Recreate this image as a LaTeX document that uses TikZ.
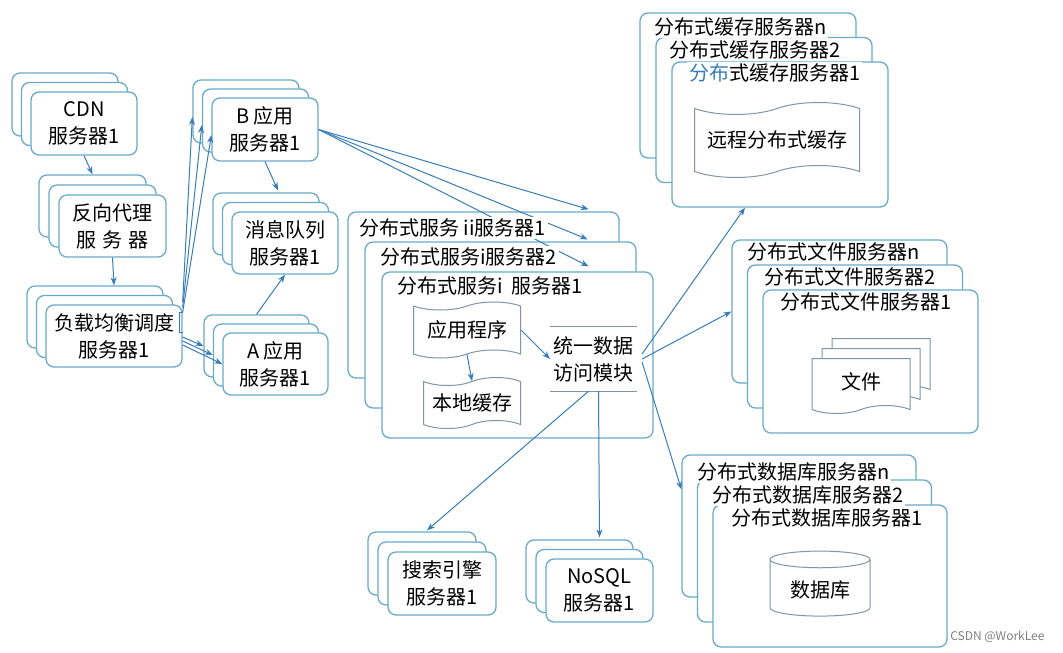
\documentclass[tikz,border=0pt]{standalone}
\usepackage{fontspec}
\setmainfont{Noto Sans CJK SC}
\usetikzlibrary{shapes.symbols,shapes.geometric,shadows,arrows.meta}

\definecolor{bordo}{RGB}{105,170,200}
\definecolor{blu}{RGB}{55,125,185}
\definecolor{grigio}{RGB}{125,150,170}

\tikzset{
  server/.style={draw=bordo, line width=1.3pt, rounded corners=8pt, fill=white, align=center},
  pila/.style 2 args={server,
    copy shadow={shadow xshift={-2*#1pt}, shadow yshift={2*#2pt}, draw=bordo, fill=white},
    copy shadow={shadow xshift={-#1pt}, shadow yshift={#2pt}, draw=bordo, fill=white}},
  nastro/.style={tape, draw=grigio, line width=1pt, fill=white, tape bend height=8pt, align=center},
  etichetta/.style={fill=white, inner sep=2pt, anchor=west},
  freccia/.style={-{Stealth[length=8pt,width=6pt]}, draw=blu, line width=1pt},
}

\begin{document}
\begin{tikzpicture}[x=1pt, y=-1pt, font=\fontsize{20}{27}\selectfont]
  \useasboundingbox (0,0) rectangle (1063,653);

  % Nodi
  \node[pila={9.5}{9.5}, minimum width=106pt, minimum height=63pt] (cdn) at (84,123.5) {CDN\\服务器1};
  \node[pila={10}{10}, minimum width=107pt, minimum height=62pt] (proxy) at (112.5,226) {反向代理\\服\hspace{6pt}务\hspace{6pt}器};
  \node[pila={9.5}{9.5}, minimum width=136pt, minimum height=62pt] (lb) at (114,336) {负载均衡调度\\服务器1};
  \node[pila={9.5}{9}, minimum width=106pt, minimum height=63pt] (B) at (265,129.5) {B\,应用\\服务器1};
  \node[pila={9.5}{9.5}, minimum width=106pt, minimum height=62pt] (mq) at (285,243) {消息队列\\服务器1};
  \node[pila={9.5}{9}, minimum width=105pt, minimum height=62pt] (A) at (275.5,364) {A\,应用\\服务器1};
  \node[pila={17}{30}, minimum width=271pt, minimum height=166pt] (ds) at (517.5,355) {};
  \node[pila={16}{24.5}, minimum width=216pt, minimum height=145pt] (cache) at (780,134.5) {};
  \node[pila={15.5}{25}, minimum width=215pt, minimum height=143pt] (file) at (870.5,361.5) {};
  \node[pila={15.5}{25}, minimum width=234pt, minimum height=142pt] (db) at (830,576) {};
  \node[pila={10}{10}, minimum width=108pt, minimum height=63pt] (se) at (442,583.5) {搜索引擎\\服务器1};
  \node[pila={10}{9.5}, minimum width=107pt, minimum height=63pt] (nosql) at (599.5,590.5) {NoSQL\\服务器1};

  % Contenuto
  \node[nastro, minimum width=107pt, minimum height=56pt] (app) at (467,330) {应用程序};
  \node[nastro, minimum width=97pt, minimum height=51pt] (lc) at (472,403) {本地缓存};
  \node[minimum width=83pt, minimum height=64pt, align=center] (uda) at (593.5,359) {统一数据\\访问模块};
  \draw[grigio, line width=1pt] (uda.north west) -- (uda.north east) (uda.south west) -- (uda.south east);
  \node[nastro, tape bend height=12pt, minimum width=165pt, minimum height=75pt] (rc) at (777,140) {远程分布式缓存};
  \node[nastro, tape bend top=none, copy shadow={shadow xshift=20pt, shadow yshift=20pt},
    copy shadow={shadow xshift=10pt, shadow yshift=10pt}, minimum width=98pt, minimum height=55pt] (doc) at (861,382) {文件};
  \node[cylinder, shape border rotate=90, aspect=0.25, draw=grigio, fill=white, line width=1pt,
    minimum width=100pt, minimum height=65pt] (cyl) at (820,589.5) {数据库};

  % Archi
  \draw[freccia] (cdn.south) -- ([shift={(-20pt,20pt)}]proxy.north);
  \draw[freccia] (proxy.south) -- ([yshift=19pt]lb.north);
  \draw[freccia] ([yshift=2pt]lb.north east) -- ([shift={(-19pt,12.5pt)}]B.west);
  \draw[freccia] ([yshift=-3pt]lb.north east) -- ([shift={(-9.5pt,4.5pt)}]B.west);
  \draw[freccia] ([yshift=-8pt]lb.north east) -- ([yshift=-5.5pt]B.west);
  \draw[freccia] ([yshift=-1pt]lb.east) -- ([shift={(-19pt,18pt)}]A.west);
  \draw[freccia] ([yshift=-5pt]lb.east) -- ([shift={(-9.5pt,9pt)}]A.west);
  \draw[freccia] ([yshift=-9pt]lb.east) -- (A.west);
  \draw[freccia] (B.south) -- ([shift={(-7pt,21pt)}]mq.north);
  \draw[freccia] ([shift={(-19pt,18pt)}]A.north) -- (mq.south);
  \draw[freccia] (B.east) -- ([shift={(-65pt,62pt)}]ds.north east);
  \draw[freccia] (B.east) -- ([shift={(-66pt,32pt)}]ds.north east);
  \draw[freccia] (B.east) -- ([shift={(-65pt,5pt)}]ds.north east);
  \draw[freccia] (app.south) -- (lc.north);
  \draw[freccia] (app.east) -- (uda.west);
  \draw[freccia] ([shift={(5pt,5pt)}]uda.east) -- ([xshift=-35pt]cache.south);
  \draw[freccia] ([xshift=5pt]uda.east) -- ([shift={(-31pt,50pt)}]file.west);
  \draw[freccia] ([shift={(5pt,-3pt)}]uda.east) -- ([shift={(-31pt,15pt)}]db.north west);
  \draw[freccia] ([xshift=-5pt]uda.south) -- ([shift={(-15pt,21pt)}]se.north);
  \draw[freccia] ([xshift=5pt]uda.south) -- ([yshift=21pt]nosql.north);
  \draw[blu, line width=1pt] (183,312) -- (179,312) -- (179,332) -- (183,332);

  % Etichette
  \node[etichetta] (ds3) at (357,228) {分布式服务 ii服务器1};
  \node[etichetta] (ds2) at (378,257) {分布式服务i服务器2};
  \node[etichetta] (ds1) at (395,286) {分布式服务i~~服务器1};
  \node[etichetta] (c3) at (652,27) {分布式缓存服务器n};
  \node[etichetta] (c2) at (667,50) {分布式缓存服务器2};
  \node[etichetta] (c1) at (687,73) {{\color{blu}分布}式缓存服务器1};
  \node[etichetta] (f3) at (745,252) {分布式文件服务器n};
  \node[etichetta] (f2) at (762,277) {分布式文件服务器2};
  \node[etichetta] (f1) at (778,302) {分布式文件服务器1};
  \node[etichetta] (d3) at (695,472) {分布式数据库服务器n};
  \node[etichetta] (d2) at (710,495) {分布式数据库服务器2};
  \node[etichetta] (d1) at (729,518) {分布式数据库服务器1};
  \node[anchor=east, text=gray, font=\fontsize{12}{14}\selectfont] (wm) at (1048,637) {CSDN @WorkLee};
\end{tikzpicture}
\end{document}
